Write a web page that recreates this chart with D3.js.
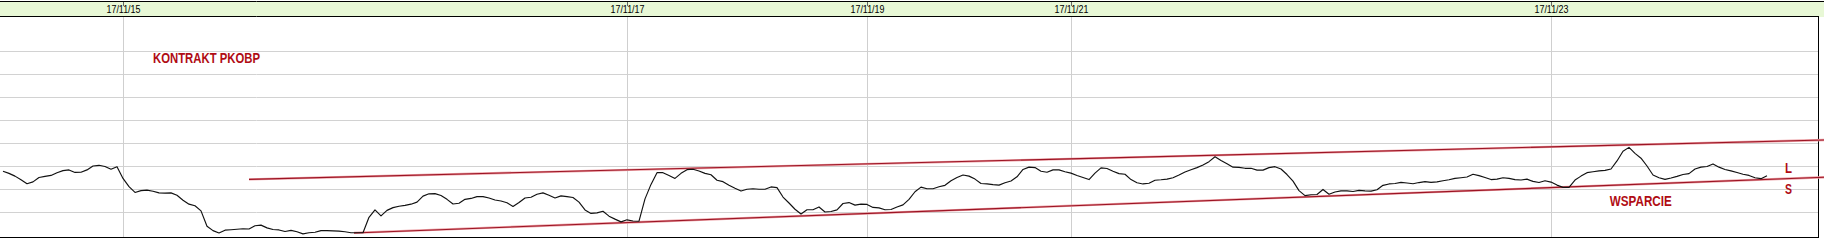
<!DOCTYPE html>
<html>
<head>
<meta charset="utf-8">
<script src="https://cdn.jsdelivr.net/npm/d3@7"></script>
<style>
  html, body { margin: 0; padding: 0; background: #fff; }
  svg { display: block; }
</style>
</head>
<body>
<svg id="chart" width="1824" height="240"></svg>
<script>
// ---------------- data ----------------
const tickLabels = ["17/11/15", "17/11/17", "17/11/19", "17/11/21", "17/11/23"];
const tickIndex = [20, 104, 144, 178, 258];
const gridValues = [30, 40, 50, 60, 70, 80, 90, 100];

const prices = [
  47.7, 46.8, 45.6, 44.0, 42.3, 43.1, 45.0, 45.5, 45.9, 47.1,
  48.0, 48.3, 47.2, 47.3, 48.3, 50.0, 50.3, 49.8, 48.6, 49.7,
  44.6, 41.0, 38.5, 39.3, 39.5, 39.0, 38.3, 38.2, 38.3, 37.3,
  35.1, 33.4, 32.7, 30.5, 23.8, 21.9, 20.9, 22.1, 22.3, 22.5,
  22.7, 22.6, 24.0, 24.3, 23.1, 22.4, 22.2, 21.5, 22.0, 21.4,
  20.5, 21.0, 21.2, 21.9, 21.9, 21.8, 21.7, 21.4, 21.0, 21.0,
  21.0, 27.7, 30.9, 28.3, 30.7, 31.9, 32.5, 32.9, 33.4, 34.3,
  36.9, 37.9, 38.0, 37.2, 35.5, 33.5, 33.8, 35.5, 35.9, 36.7,
  36.7, 36.1, 35.2, 34.8, 34.0, 32.4, 34.1, 36.1, 36.4, 37.7,
  38.3, 37.3, 36.1, 37.0, 36.7, 36.3, 34.3, 30.9, 29.4, 29.6,
  30.3, 28.2, 26.9, 25.7, 26.6, 26.1, 26.0, 35.7, 42.0, 47.1,
  47.1, 45.9, 44.6, 46.8, 48.4, 48.6, 47.8, 46.8, 46.2, 43.8,
  43.2, 41.6, 40.3, 39.1, 39.9, 40.1, 39.9, 39.9, 40.9, 40.6,
  36.5, 33.9, 31.2, 29.1, 31.0, 31.0, 32.2, 30.0, 30.2, 30.9,
  33.7, 34.1, 33.0, 33.4, 33.3, 32.0, 31.8, 31.0, 31.1, 32.2,
  33.1, 35.5, 38.8, 40.8, 40.1, 40.1, 41.0, 41.6, 43.6, 45.0,
  46.1, 45.6, 44.3, 42.4, 42.2, 41.9, 41.7, 42.7, 43.5, 45.3,
  48.5, 49.5, 49.3, 47.7, 47.3, 48.3, 48.3, 47.5, 46.9, 45.9,
  45.0, 44.1, 46.9, 49.2, 48.9, 47.7, 46.7, 46.4, 44.1, 42.7,
  42.2, 42.5, 43.8, 44.0, 44.3, 44.9, 46.1, 47.4, 48.4, 49.3,
  50.4, 51.9, 54.0, 52.4, 51.0, 49.5, 49.4, 49.0, 49.0, 48.2,
  48.2, 49.3, 49.7, 48.7, 46.3, 43.4, 39.3, 37.1, 37.5, 37.6,
  39.8, 37.7, 38.7, 39.2, 39.2, 38.9, 39.4, 39.2, 39.1, 39.7,
  41.6, 42.2, 42.4, 42.9, 42.6, 42.3, 42.8, 43.2, 42.9, 43.1,
  43.6, 44.0, 44.6, 44.9, 45.2, 46.4, 45.8, 45.0, 44.1, 44.3,
  44.9, 44.6, 44.1, 43.9, 44.3, 43.3, 42.8, 43.6, 43.0, 41.7,
  40.7, 40.7, 43.9, 45.6, 47.1, 47.5, 47.9, 48.1, 48.7, 52.2,
  56.4, 58.1, 55.5, 53.4, 50.0, 46.1, 44.9, 44.2, 44.8, 45.5,
  46.3, 46.7, 48.7, 49.5, 49.8, 50.9, 49.5, 48.5, 47.9, 47.2,
  46.4, 45.9, 44.9, 44.5, 45.8
];

// trend lines: [index, value] end points
const resistance = [[41, 44.2], [303.5, 61.3]];
const support = [[58.5, 20.9], [303.5, 45.1]];

// annotations anchored in data space (index, value of baseline)
const notes = [
  { text: "KONTRAKT PKOBP", i: 25, v: 94.7, len: 107 },
  { text: "WSPARCIE", i: 267.8, v: 32.6, len: 62 },
  { text: "L", i: 297, v: 47.0, len: 7 },
  { text: "S", i: 297, v: 37.8, len: 7 }
];

// ---------------- layout ----------------
const W = 1824, plotRight = 1818;
const headerTop = 1, headerBottom = 17, plotBottom = 237;

const svg = d3.select("#chart");

const x = d3.scaleLinear().domain([-0.5, 302.5]).range([0, plotRight]);
const y = d3.scaleLinear().domain([30, 100]).range([212, 51]);

// header band
svg.append("rect").attr("x", 0).attr("y", headerTop).attr("width", W)
  .attr("height", headerBottom - headerTop).attr("fill", "#e8f8d6");

// horizontal grid lines
const gy = svg.append("g").attr("class", "ygrid")
  .call(d3.axisRight(y).tickValues(gridValues).tickSize(plotRight).tickFormat(""));
gy.select(".domain").remove();
gy.selectAll("line").attr("stroke", "#d2d2d2");

// vertical grid lines
const gx = svg.append("g").attr("transform", `translate(0,${headerBottom})`)
  .call(d3.axisBottom(x).tickValues(tickIndex).tickSize(plotBottom - headerBottom).tickFormat(""));
gx.select(".domain").remove();
gx.selectAll("line").attr("stroke", "#cfcfcf");

// header ticks and labels
const hx = svg.append("g").attr("transform", `translate(0,${headerTop})`)
  .call(d3.axisBottom(x).tickValues(tickIndex).tickSize(5)
    .tickFormat((d, i) => tickLabels[i]));
hx.select(".domain").remove();
hx.selectAll("line").attr("stroke", "#666");
hx.selectAll("text")
  .attr("y", 0).attr("dy", "11.8px")
  .attr("fill", "#000")
  .style("font-family", "'Liberation Sans Narrow', 'Liberation Sans', Arial, sans-serif")
  .style("font-size", "11px")
  .attr("textLength", 34).attr("lengthAdjust", "spacingAndGlyphs");

// frame lines
svg.append("line").attr("x1", 0).attr("x2", W).attr("y1", headerTop + 0.5).attr("y2", headerTop + 0.5)
  .attr("stroke", "#000");
svg.append("line").attr("x1", 0).attr("x2", plotRight + 1).attr("y1", headerBottom - 0.5).attr("y2", headerBottom - 0.5)
  .attr("stroke", "#000");
svg.append("line").attr("x1", 0).attr("x2", plotRight + 1).attr("y1", plotBottom + 0.5).attr("y2", plotBottom + 0.5)
  .attr("stroke", "#000").attr("stroke-width", 1.2);
svg.append("line").attr("x1", plotRight + 0.5).attr("x2", plotRight + 0.5).attr("y1", headerBottom).attr("y2", plotBottom + 1)
  .attr("stroke", "#000");

// trend lines
const tline = d3.line().x(d => x(d[0])).y(d => y(d[1]));
[resistance, support].forEach(seg => {
  svg.append("path").attr("d", tline(seg)).attr("fill", "none")
    .attr("stroke", "#ec9fa4").attr("stroke-width", 2.3);
  svg.append("path").attr("d", tline(seg)).attr("fill", "none")
    .attr("stroke", "#9c1424").attr("stroke-width", 1.1);
});

// price line
const pline = d3.line().x((d, i) => x(i)).y(d => y(d));
svg.append("path").attr("d", pline(prices)).attr("fill", "none")
  .attr("stroke", "#111").attr("stroke-width", 1.15).attr("stroke-linejoin", "round");

// annotations
svg.selectAll("text.note").data(notes).enter().append("text")
  .attr("class", "note")
  .attr("x", d => x(d.i)).attr("y", d => y(d.v))
  .attr("fill", "#b00c14")
  .style("font-family", "'Liberation Sans Narrow', 'Liberation Sans', Arial, sans-serif")
  .style("font-weight", "bold")
  .style("font-size", "14px")
  .attr("textLength", d => d.len).attr("lengthAdjust", "spacingAndGlyphs")
  .text(d => d.text);
</script>
</body>
</html>
